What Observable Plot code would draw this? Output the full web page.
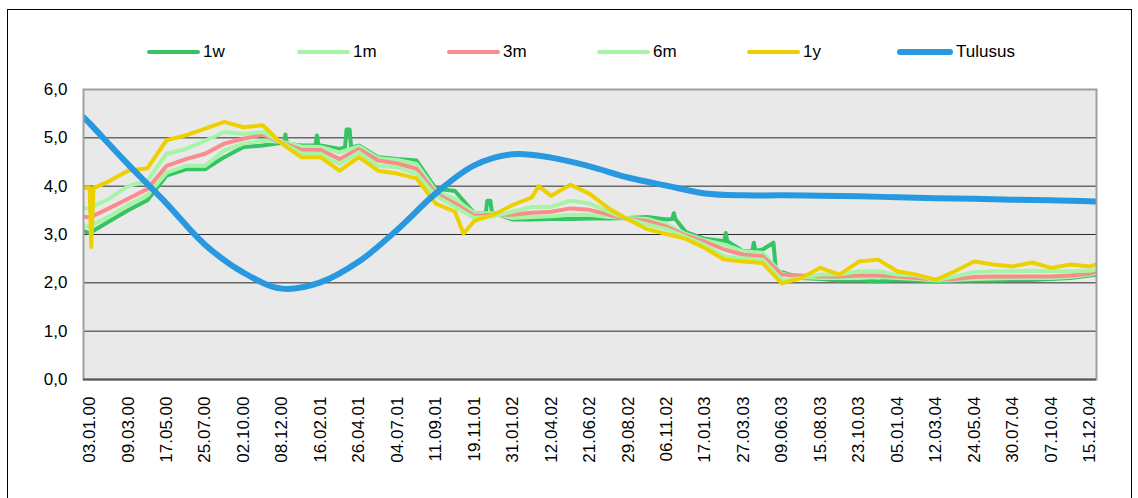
<!DOCTYPE html>
<html><head><meta charset="utf-8">
<script src="https://cdn.jsdelivr.net/npm/d3@7"></script>
<script src="https://cdn.jsdelivr.net/npm/@observablehq/plot@0.6"></script>
<style>
html,body{margin:0;padding:0;background:#fff;}
body{width:1138px;height:498px;position:relative;overflow:hidden;font-family:"Liberation Sans",Arial,sans-serif;}
#border{position:absolute;left:7px;top:9px;width:1125px;height:495px;border:1px solid #000;box-sizing:border-box;pointer-events:none;}
#legend{position:absolute;left:0;top:0;width:1138px;height:60px;}
.item{position:absolute;top:42px;height:20px;display:flex;align-items:center;font-size:17px;color:#000;white-space:nowrap;}
.sw{border-radius:3px;margin-right:3px;}
#chart{position:absolute;left:0;top:60px;}
</style></head>
<body>
<div id="legend"></div>
<div id="chart"></div>
<div id="border"></div>
<script>
// ---- data ----
const labels = ["03.01.00","09.03.00","17.05.00","25.07.00","02.10.00","08.12.00","16.02.01","26.04.01","04.07.01","11.09.01","19.11.01","31.01.02","12.04.02","21.06.02","29.08.02","06.11.02","17.01.03","27.03.03","09.06.03","15.08.03","23.10.03","05.01.04","12.03.04","24.05.04","30.07.04","07.10.04","15.12.04"];
const yTicks = [0, 1, 2, 3, 4, 5, 6];
const seriesNames = ["1w", "1m", "3m", "6m", "1y", "Tulusus"];
const seriesColors = ["#35c363", "#a6f5a6", "#fa8c8c", "#a6f5a6", "#ecd000", "#2898e0"];

// shared positions (in label-interval units) for 1m, 3m, 6m
const pos = [-0.15,0,0.5,1,1.5,2,2.5,3,3.5,4,4.5,5,5.5,6,6.5,7,7.5,8,8.5,9,9.5,10,10.5,11,11.5,12,12.5,13,13.5,14,14.5,15,15.5,16,16.5,17,17.5,18,18.5,19,19.5,20,20.5,21,21.5,22,22.5,23,23.5,24,24.5,25,25.5,26,26.18];
const m1 = [3.17,3.17,3.37,3.61,3.81,4.28,4.42,4.42,4.74,4.88,4.94,4.92,4.82,4.81,4.70,4.82,4.58,4.54,4.46,3.90,3.74,3.44,3.44,3.34,3.36,3.38,3.41,3.41,3.36,3.34,3.32,3.21,3.01,2.88,2.79,2.65,2.62,2.19,2.12,2.10,2.10,2.10,2.12,2.10,2.08,2.05,2.06,2.08,2.09,2.10,2.10,2.10,2.12,2.17,2.20];
const m3 = [3.37,3.35,3.54,3.74,3.94,4.42,4.56,4.67,4.88,4.98,5.07,4.90,4.75,4.75,4.56,4.77,4.53,4.47,4.36,3.85,3.64,3.39,3.41,3.41,3.45,3.47,3.54,3.51,3.41,3.32,3.28,3.16,2.98,2.85,2.69,2.58,2.55,2.17,2.15,2.13,2.13,2.15,2.15,2.13,2.10,2.07,2.08,2.12,2.13,2.13,2.13,2.13,2.15,2.19,2.24];
const m6 = [3.55,3.55,3.74,4.00,4.11,4.67,4.77,4.94,5.12,5.08,5.12,4.90,4.68,4.67,4.46,4.70,4.42,4.39,4.26,3.80,3.57,3.34,3.38,3.47,3.57,3.57,3.70,3.64,3.47,3.32,3.21,3.11,2.95,2.78,2.55,2.51,2.48,2.06,2.10,2.17,2.17,2.24,2.24,2.17,2.15,2.06,2.13,2.22,2.24,2.24,2.25,2.24,2.24,2.25,2.27];

// 1w with its own positions (contains short spikes)
const w1Pos = [-0.15,0,0.5,1,1.5,2,2.5,3,3.5,4,4.5,5,5.05,5.09,5.13,5.5,5.87,5.91,5.95,6,6.5,6.64,6.68,6.76,6.80,7,7.5,8,8.5,9,9.5,10,10.3,10.34,10.42,10.46,11,11.5,12,12.5,13,13.5,14,14.5,15,15.15,15.19,15.23,15.5,16,16.5,16.54,16.58,17,17.23,17.27,17.31,17.5,17.78,17.85,18,18.5,19,19.5,20,20.5,21,21.5,22,22.5,23,23.5,24,24.5,25,25.5,26,26.18];
const w1 = [3.07,3.03,3.27,3.50,3.71,4.22,4.35,4.35,4.60,4.81,4.84,4.90,4.88,5.07,4.88,4.84,4.84,5.05,4.84,4.84,4.77,4.80,5.17,5.17,4.80,4.84,4.60,4.56,4.53,3.95,3.90,3.44,3.45,3.70,3.70,3.46,3.31,3.31,3.32,3.32,3.33,3.33,3.34,3.36,3.31,3.32,3.44,3.32,3.05,2.91,2.86,3.03,2.86,2.65,2.66,2.83,2.66,2.69,2.83,2.22,2.22,2.10,2.08,2.05,2.06,2.03,2.06,2.05,2.03,2.05,2.05,2.05,2.06,2.06,2.08,2.10,2.15,2.17];

// 1y with its own positions
const y1Pos = [-0.15,0,0.04,0.1,0.5,1,1.5,2,2.5,3,3.5,4,4.5,5,5.5,6,6.5,7,7.5,8,8.5,9,9.5,9.72,10,10.5,11,11.5,11.67,12,12.5,13,13.5,14,14.5,15,15.5,16,16.5,17,17.5,18,18.5,19,19.5,20,20.5,21,21.5,22,22.5,23,23.5,24,24.5,25,25.5,26,26.18];
const y1 = [3.96,3.96,2.74,3.96,4.10,4.32,4.37,4.95,5.05,5.19,5.33,5.22,5.26,4.88,4.60,4.60,4.32,4.60,4.32,4.26,4.16,3.64,3.47,3.02,3.28,3.41,3.61,3.77,4.00,3.80,4.03,3.84,3.54,3.31,3.11,3.01,2.91,2.72,2.48,2.44,2.41,1.99,2.10,2.31,2.17,2.44,2.48,2.24,2.17,2.06,2.24,2.44,2.38,2.34,2.42,2.31,2.38,2.34,2.38];

// Tulusus
const tuPos = [-0.15,0,1,2,3,4,5,6,7,8,9,10,11,12,13,14,15,16,17,18,19,20,21,22,23,24,25,26,26.18];
const tu = [5.42,5.30,4.45,3.64,2.79,2.21,1.88,2.01,2.44,3.10,3.85,4.43,4.66,4.59,4.41,4.18,4.01,3.85,3.81,3.81,3.80,3.79,3.77,3.75,3.74,3.72,3.71,3.69,3.68];

// ---- build tables ----
const toRows = (xs, vs, s) => xs.map((x, i) => ({x, v: vs[i], s}));
const series = [
  toRows(w1Pos, w1, "1w"),
  toRows(pos, m1, "1m"),
  toRows(pos, m3, "3m"),
  toRows(pos, m6, "6m"),
  toRows(y1Pos, y1, "1y"),
  toRows(tuPos, tu, "Tulusus")
];

// ---- legend ----
const legend = document.getElementById("legend");
seriesNames.forEach((name, i) => {
  const it = document.createElement("div");
  it.className = "item";
  it.style.left = (147 + i * 150) + "px";
  const sw = document.createElement("span");
  sw.className = "sw";
  const isTu = name === "Tulusus";
  sw.style.width = (isTu ? 56 : 53) + "px";
  sw.style.height = (isTu ? 6 : 4) + "px";
  sw.style.background = seriesColors[i];
  it.appendChild(sw);
  const t = document.createElement("span");
  t.textContent = name;
  it.appendChild(t);
  legend.appendChild(it);
});

// ---- chart ----
const lineMarks = series.map((rows, i) => Plot.line(rows, {
  x: "x", y: "v",
  stroke: seriesColors[i],
  strokeWidth: seriesNames[i] === "Tulusus" ? 6 : 4,
  strokeLinejoin: "round", strokeLinecap: "round",
  curve: seriesNames[i] === "Tulusus" ? "catmull-rom" : "linear",
  clip: true
}));

const chart = Plot.plot({
  width: 1138, height: 438,
  marginLeft: 83, marginRight: 42, marginTop: 29, marginBottom: 119,
  x: {domain: [-0.16, 26.18]},
  y: {domain: [0, 6]},
  style: {fontFamily: "'Liberation Sans', Arial, sans-serif", fontSize: "17px", background: "transparent", color: "#000", overflow: "visible"},
  marks: [
    Plot.frame({fill: "#e9e9e9", stroke: null}),
    Plot.ruleY(yTicks.filter(d => d > 0 && d < 6), {stroke: "#2a2a2a", strokeWidth: 1}),
    ...lineMarks,
    Plot.frame({stroke: "#a0a0a0", strokeWidth: 2}),
    Plot.ruleY([0], {stroke: "#555", strokeWidth: 2}),
    Plot.axisY({ticks: yTicks, tickFormat: d => d.toFixed(1).replace(".", ","), tickSize: 0, tickPadding: 16, label: null, fontSize: 17}),
    Plot.axisX({ticks: labels.map((d, i) => i), tickFormat: i => labels[i], tickRotate: -90, tickSize: 0, tickPadding: 17, label: null, fontSize: 17})
  ]
});
document.getElementById("chart").appendChild(chart);
</script>
</body></html>
